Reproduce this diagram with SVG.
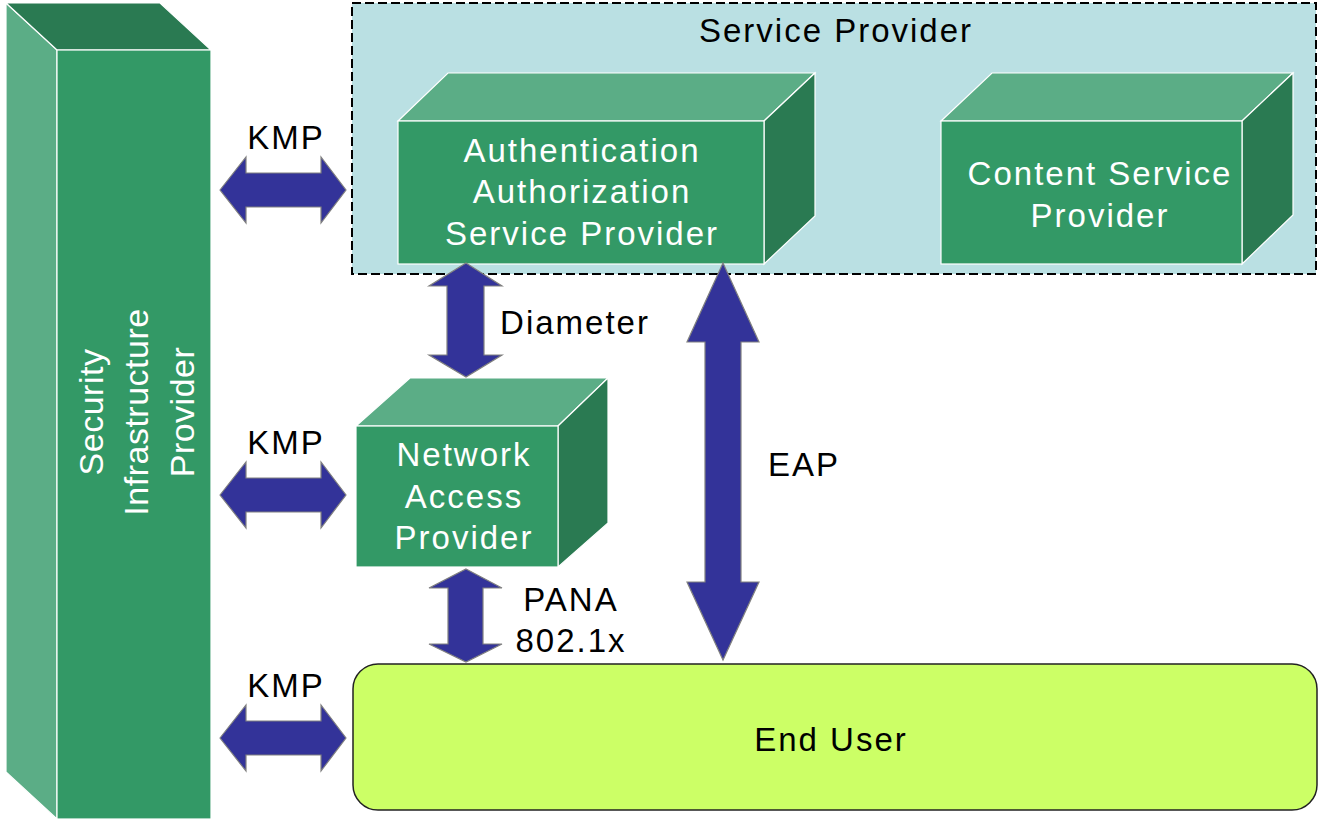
<svg xmlns="http://www.w3.org/2000/svg" width="1319" height="822" viewBox="0 0 1319 822">
  <style>
    .front { fill: #339966; stroke: #ffffff; stroke-width: 1.2; }
    .light { fill: #5BAD86; stroke: #ffffff; stroke-width: 1.2; }
    .dark { fill: #2A7A52; stroke: #ffffff; stroke-width: 1.2; }
    .arrow { fill: #333399; stroke: #808080; stroke-width: 1.2; stroke-linejoin: miter; }
    text { font-family: "Liberation Sans", Arial, sans-serif; font-size: 33px; letter-spacing: 2px; }
    .white { fill: #ffffff; }
    .black { fill: #000000; }
  </style>

  <rect width="1319" height="822" fill="#ffffff"/>

  <!-- Service provider domain -->
  <g id="service-provider">
    <rect x="352" y="3" width="964" height="271" fill="#BAE0E3" stroke="#000000" stroke-width="2" stroke-dasharray="9,4"/>
    <text class="black" x="836" y="42" text-anchor="middle">Service Provider</text>
  </g>

  <!-- Security infrastructure provider column -->
  <g id="security-infrastructure-provider">
    <polygon class="light" points="6,3 57,50 57,819 6,772"/>
    <polygon class="dark" points="6,3 160,3 211,50 57,50"/>
    <rect class="front" x="57" y="50" width="154" height="769"/>
    <g transform="translate(134,412) rotate(-90)">
      <text class="white" x="0" y="-31" text-anchor="middle" style="font-size:34px;letter-spacing:0.5px">Security</text>
      <text class="white" x="0" y="14" text-anchor="middle" style="font-size:34px;letter-spacing:0.5px">Infrastructure</text>
      <text class="white" x="0" y="60" text-anchor="middle" style="font-size:34px;letter-spacing:0.5px">Provider</text>
    </g>
  </g>

  <!-- Authentication Authorization Service Provider -->
  <g id="aasp">
    <polygon class="light" points="398,121 448,73 815,73 764,121"/>
    <polygon class="dark" points="764,121 815,73 815,216 764,264"/>
    <rect class="front" x="398" y="121" width="366" height="143"/>
    <text class="white" x="582" y="162" text-anchor="middle">Authentication</text>
    <text class="white" x="582" y="203" text-anchor="middle">Authorization</text>
    <text class="white" x="582" y="245" text-anchor="middle">Service Provider</text>
  </g>

  <!-- Content Service Provider -->
  <g id="csp">
    <polygon class="light" points="941,121 992,73 1293,73 1242,121"/>
    <polygon class="dark" points="1242,121 1293,73 1293,215 1242,264"/>
    <rect class="front" x="941" y="121" width="301" height="143"/>
    <text class="white" x="1100" y="185" text-anchor="middle">Content Service</text>
    <text class="white" x="1100" y="227" text-anchor="middle">Provider</text>
  </g>

  <!-- Network Access Provider -->
  <g id="nap">
    <polygon class="light" points="356,426 410,378 608,378 558,426"/>
    <polygon class="dark" points="558,426 608,378 608,523 558,567"/>
    <rect class="front" x="356" y="426" width="202" height="141"/>
    <text class="white" x="464" y="466" text-anchor="middle">Network</text>
    <text class="white" x="464" y="508" text-anchor="middle">Access</text>
    <text class="white" x="464" y="549" text-anchor="middle">Provider</text>
  </g>

  <!-- End user -->
  <g id="end-user">
    <rect x="353" y="664" width="964" height="146" rx="25" ry="25" fill="#CCFF66" stroke="#222222" stroke-width="1.5"/>
    <text class="black" x="831" y="751" text-anchor="middle">End User</text>
  </g>

  <!-- Protocol connectors -->
  <g id="connectors">
    <!-- KMP: security infrastructure <-> AASP -->
    <polygon class="arrow" points="220,190 246,157 246,173 321,173 321,157 346,190 321,223 321,207 246,207 246,223"/>
    <text class="black" x="286" y="149" text-anchor="middle">KMP</text>

    <!-- KMP: security infrastructure <-> NAP -->
    <polygon class="arrow" points="220,495 246,462 246,478 321,478 321,462 346,495 321,528 321,512 246,512 246,528"/>
    <text class="black" x="286" y="454" text-anchor="middle">KMP</text>

    <!-- KMP: security infrastructure <-> end user -->
    <polygon class="arrow" points="220,738 246,705 246,721 321,721 321,705 346,738 321,771 321,755 246,755 246,771"/>
    <text class="black" x="286" y="697" text-anchor="middle">KMP</text>

    <!-- Diameter: AASP <-> NAP -->
    <polygon class="arrow" points="466,263 502,286 484,286 484,355 502,355 466,377 429,355 447,355 447,286 429,286"/>
    <text class="black" x="575" y="334" text-anchor="middle">Diameter</text>

    <!-- PANA / 802.1x: NAP <-> end user -->
    <polygon class="arrow" points="466,569 502,588 483,588 483,644 502,644 466,662 429,644 448,644 448,588 429,588"/>
    <text class="black" x="571" y="611" text-anchor="middle">PANA</text>
    <text class="black" x="571" y="652" text-anchor="middle">802.1x</text>

    <!-- EAP: AASP <-> end user -->
    <polygon class="arrow" points="723,263 759,342 741,342 741,582 759,582 723,660 687,582 705,582 705,342 687,342"/>
    <text class="black" x="804" y="476" text-anchor="middle">EAP</text>
  </g>
</svg>
